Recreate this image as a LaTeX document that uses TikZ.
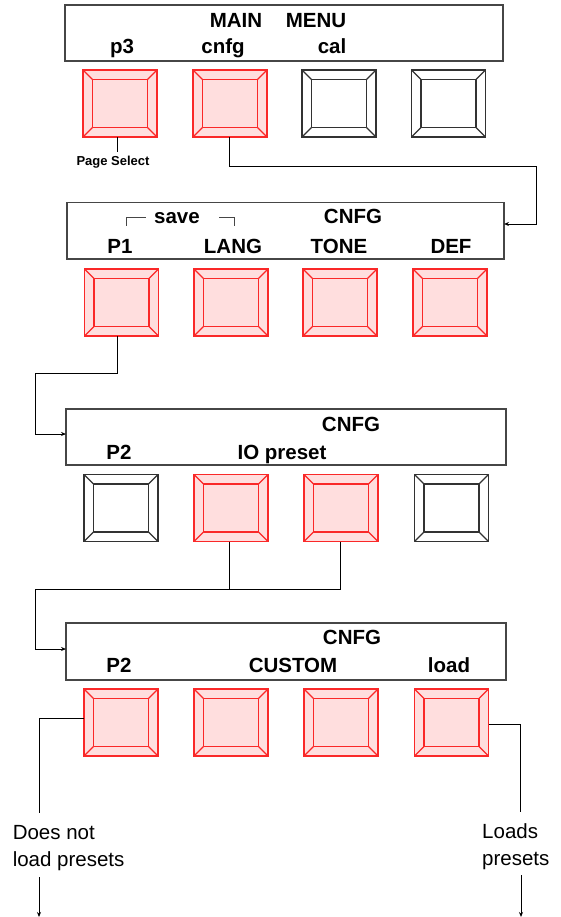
\documentclass[tikz,border=0pt]{standalone}
\usepackage{fontspec}
\setmainfont{Liberation Sans}
\usetikzlibrary{arrows.meta,calc}
\definecolor{btnred}{RGB}{250,40,40}
\definecolor{btnpink}{RGB}{255,222,222}
\definecolor{panelgray}{RGB}{70,70,70}
\definecolor{plaingray}{RGB}{50,50,50}
\newcommand\mkbtn[4]{% name, center x, center y, kind (redbtn/plainbtn)
  \node[btnbox,#4] (#1) at (#2,#3) {};
  \draw[#4] ($(#1.north west)+(9.5,9.5)$) rectangle ($(#1.south east)+(-9.5,-9.5)$);
  \draw[#4] (#1.north west) -- ++(9.5,9.5);
  \draw[#4] (#1.north east) -- ++(-9.5,9.5);
  \draw[#4] (#1.south west) -- ++(9.5,-9.5);
  \draw[#4] (#1.south east) -- ++(-9.5,-9.5);
}
\tikzset{
  btnbox/.style={rectangle, minimum width=74pt, minimum height=67pt, inner sep=0pt, outer sep=0pt},
  redbtn/.style={draw=btnred, fill=btnpink, line width=1.1pt},
  plainbtn/.style={draw=plaingray, fill=white, line width=1.1pt},
  panel/.style={rectangle, draw=panelgray, line width=1.1pt, inner sep=0pt, outer sep=0pt},
  lbl/.style={font=\fontsize{20.5}{24}\selectfont\bfseries, inner sep=0pt, anchor=base},
  note/.style={font=\fontsize{20.5}{24}\selectfont, inner sep=0pt, anchor=base west},
  small/.style={font=\fontsize{13}{15}\selectfont\bfseries, inner sep=0pt, anchor=base},
  conn/.style={draw=black, line width=0.9pt},
  arr/.style={conn, -{Stealth[length=5pt,width=4pt]}},
  brk/.style={draw=panelgray, line width=1pt},
}
\begin{document}
\begin{tikzpicture}[x=1pt,y=-1pt]
\useasboundingbox (0,0) rectangle (561,917);

% ---------- panel 1
\node[panel, minimum width=438pt, minimum height=56pt] (p1) at (284,33) {};
\node[lbl] (t1a) at (236,28) {MAIN};
\node[lbl] (t1b) at (316,28) {MENU};
\node[lbl] (t1c) at (122,54) {p3};
\node[lbl] (t1d) at (223,54) {cnfg};
\node[lbl] (t1e) at (332,54) {cal};
\mkbtn{b11}{120}{103.5}{redbtn}
\mkbtn{b12}{230}{103.5}{redbtn}
\mkbtn{b13}{339}{103.5}{plainbtn}
\mkbtn{b14}{448.5}{103.5}{plainbtn}
\node[small] (ps) at (113,166) {Page Select};
\draw[conn] ([xshift=-3pt]b11.south) -- ++(0,15);

% ---------- panel 2
\node[panel, minimum width=437pt, minimum height=56.5pt] (p2) at (285.5,230.75) {};
\node[lbl] (t2a) at (177,224) {save};
\node[lbl] (t2b) at (353,224) {CNFG};
\node[lbl] (t2c) at (120,253) {P1};
\node[lbl] (t2d) at (233,253) {LANG};
\node[lbl] (t2e) at (339,253) {TONE};
\node[lbl] (t2f) at (451,253) {DEF};
\draw[brk] (126,226) -- (126,218) -- (146,218);
\draw[brk] (219,218) -- (234,218) -- (234,226);
\mkbtn{b21}{121.5}{302.5}{redbtn}
\mkbtn{b22}{231}{302.5}{redbtn}
\mkbtn{b23}{340}{302.5}{redbtn}
\mkbtn{b24}{450}{302.5}{redbtn}

\coordinate (c1) at (536,166);
\draw[arr] ([xshift=-1pt]b12.south) |- (c1) |- ([yshift=6.75pt]p2.east);

% ---------- panel 3
\node[panel, minimum width=440pt, minimum height=56pt] (p3) at (286,437) {};
\node[lbl] (t3a) at (351,431) {CNFG};
\node[lbl] (t3b) at (119,459) {P2};
\node[lbl] (t3c) at (282,459) {IO preset};
\mkbtn{b31}{121}{508}{plainbtn}
\mkbtn{b32}{231}{508}{redbtn}
\mkbtn{b33}{341}{508}{redbtn}
\mkbtn{b34}{451.5}{508}{plainbtn}

\coordinate (c2) at (35,373);
\draw[arr] ([xshift=-4.5pt]b21.south) |- (c2) |- ([yshift=3pt]p3.west);

% ---------- panel 4
\node[panel, minimum width=440pt, minimum height=57pt] (p4) at (286,651.5) {};
\node[lbl] (t4a) at (352,644) {CNFG};
\node[lbl] (t4b) at (119,672) {P2};
\node[lbl] (t4c) at (293,672) {CUSTOM};
\node[lbl] (t4d) at (449,672) {load};
\mkbtn{b41}{121}{722.5}{redbtn}
\mkbtn{b42}{231}{722.5}{redbtn}
\mkbtn{b43}{341}{722.5}{redbtn}
\mkbtn{b44}{451.5}{722.5}{redbtn}

\coordinate (c3) at (35,589);
\draw[arr] ([xshift=-1pt]b33.south) |- (c3) |- ([yshift=2.5pt]p4.west);
\draw[conn] ([xshift=-1.5pt]b32.south) -- ([xshift=-1.5pt]b32.south |- c3);

% ---------- outcomes
\coordinate (c4) at (39,813);
\draw[conn] ([yshift=4.5pt]b41.west) -| (c4);
\node[note] (n1) at (12.6,839) {Does not};
\node[note] (n2) at (12.6,866) {load presets};
\coordinate (d1) at (39,877);
\coordinate (e1) at (39,917);
\draw[arr] (d1) -- (e1);

\coordinate (c5) at (520,812);
\draw[conn] ([yshift=-1.5pt]b44.east) -| (c5);
\node[note] (n3) at (482,838) {Loads};
\node[note] (n4) at (482,865) {presets};
\coordinate (d2) at (521,875);
\coordinate (e2) at (521,917);
\draw[arr] (d2) -- (e2);
\end{tikzpicture}
\end{document}
